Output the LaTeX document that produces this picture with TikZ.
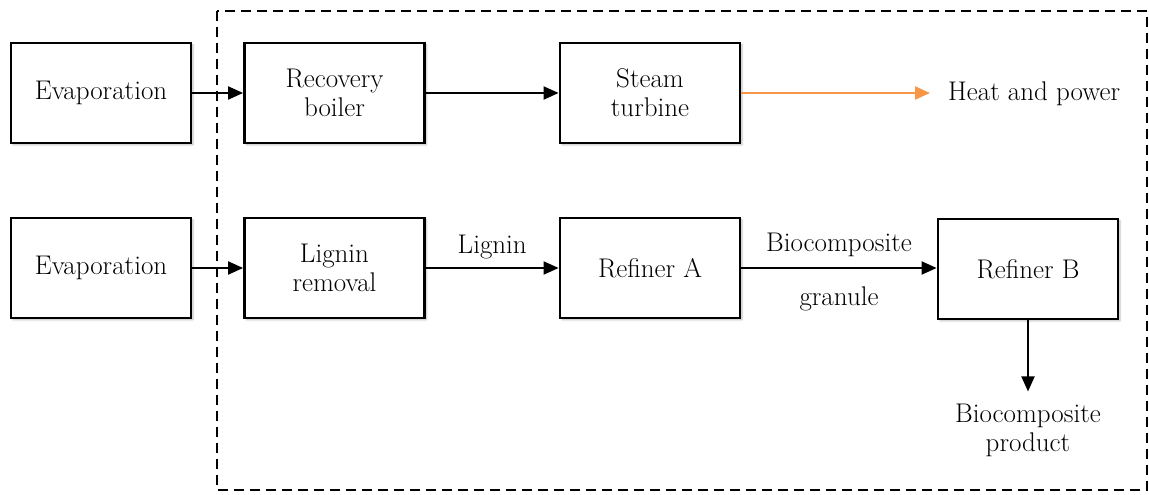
\documentclass[tikz,border=0pt]{standalone}
\usetikzlibrary{arrows.meta,shadows.blur}
\definecolor{flowor}{HTML}{F79646}
\begin{document}
\begin{tikzpicture}[x=1pt,y=1pt,
  font=\fontsize{27}{29}\selectfont,
  block/.style={draw,line width=2.8pt,fill=white,minimum width=180pt,minimum height=100pt,
    align=center,inner sep=0pt,
    blur shadow={shadow xshift=2pt,shadow yshift=-2pt,shadow blur steps=6,shadow opacity=25}},
  flow/.style={line width=2pt,-{Triangle[length=15pt,width=13pt]}},
  heatflow/.style={flow,draw=flowor,fill=flowor},
  lbl/.style={align=center,inner sep=0pt}]
\useasboundingbox (0,0) rectangle (1149,495);
% system boundary
\draw[line width=2.2pt,dash pattern=on 10pt off 6pt] (217,484) rectangle (1147,5);
% upper chain
\node[block] (evap1) at (101,402) {Evaporation};
\node[block] (rboil) at (334.5,402) {Recovery\\boiler};
\node[block] (steam) at (650,402) {Steam\\turbine};
\node[lbl,anchor=west] (heat) at (948,401) {Heat and power};
\coordinate (heatin) at (930,402);
% lower chain
\node[block] (evap2) at (101,227) {Evaporation};
\node[block] (lrem) at (334.5,227) {Lignin\\removal};
\node[block] (refa) at (650,227) {Refiner A};
\node[block] (refb) at (1028,226) {Refiner B};
\node[lbl] (prod) at (1028,65) {Biocomposite\\product};
% connectors
\draw[flow] (evap1.east) -- (rboil.west);
\draw[flow] (rboil.east) -- (steam.west);
\draw[heatflow] (steam.east) -- (heatin);
\draw[flow] (evap2.east) -- (lrem.west);
\draw[flow] (lrem.east) -- node[lbl,above=8pt] {Lignin} (refa.west);
\draw[flow] (refa.east) -- node[lbl,above=10pt] {Biocomposite}
  node[lbl,below=18pt] {granule} (refa.east -| refb.west);
\draw[flow] (refb.south) -- ([yshift=12pt]prod.north);
\end{tikzpicture}
\end{document}
